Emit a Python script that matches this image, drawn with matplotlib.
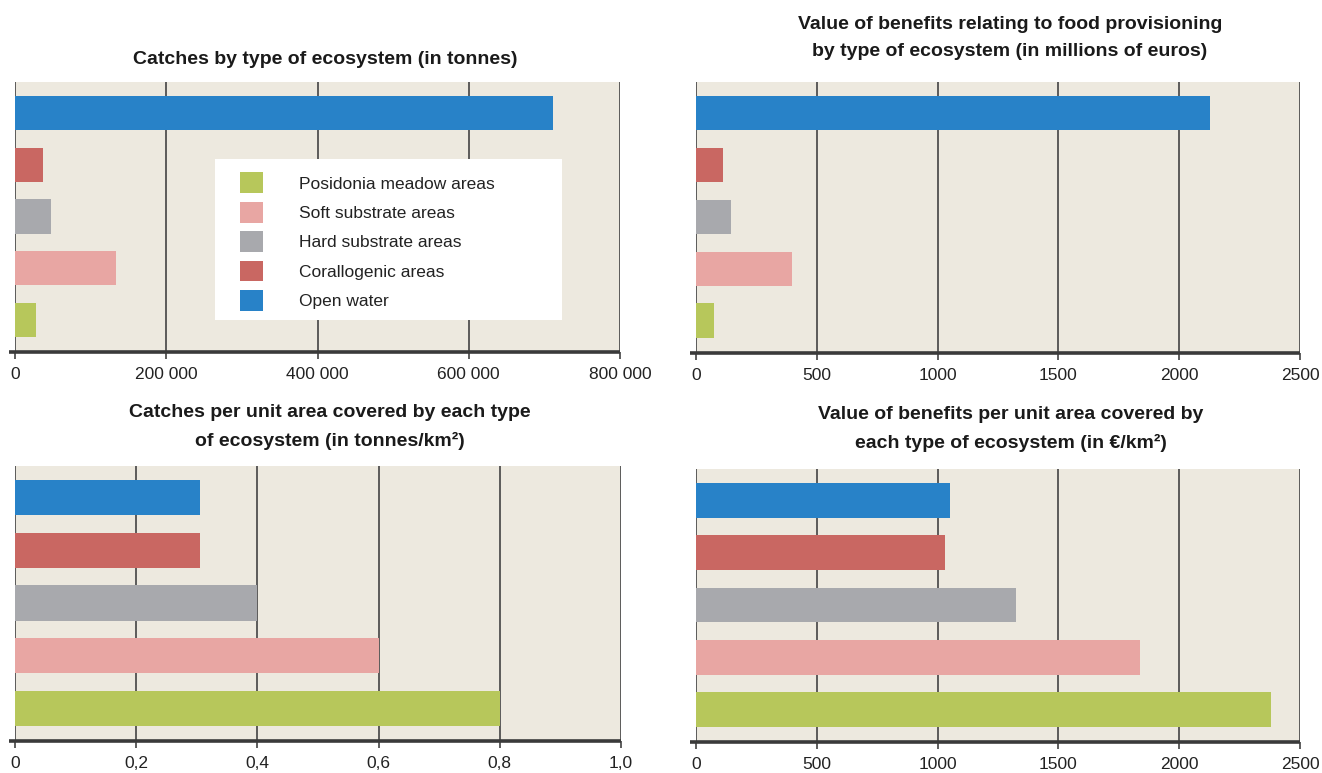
import matplotlib
matplotlib.use("Agg")
import matplotlib.pyplot as plt
from matplotlib.patches import Patch, Rectangle

plt.rcParams['font.family'] = ['Liberation Sans', 'DejaVu Sans']

# data (bottom to top)
ecosystems = ["Posidonia meadow areas", "Soft substrate areas", "Hard substrate areas",
              "Corallogenic areas", "Open water"]
colors = ["#b7c75b", "#e8a6a3", "#a8a9ad", "#c96762", "#2882c8"]

catches = [28000, 134000, 48000, 37500, 711500]
benefits = [76, 396, 144, 110, 2128]
catches_per_km2 = [0.8, 0.6, 0.4, 0.305, 0.305]
benefits_per_km2 = [2380, 1839, 1323, 1030, 1050]

ticks_catches = [0, 200000, 400000, 600000, 800000]
labels_catches = ["0", "200 000", "400 000", "600 000", "800 000"]
ticks_eur = [0, 500, 1000, 1500, 2000, 2500]
labels_eur = ["0", "500", "1000", "1500", "2000", "2500"]
ticks_ratio = [0, 0.2, 0.4, 0.6, 0.8, 1.0]
labels_ratio = ["0", "0,2", "0,4", "0,6", "0,8", "1,0"]

titles = ["Catches by type of ecosystem (in tonnes)",
          "Value of benefits relating to food provisioning\nby type of ecosystem (in millions of euros)",
          "Catches per unit area covered by each type\nof ecosystem (in tonnes/km²)",
          "Value of benefits per unit area covered by\neach type of ecosystem (in €/km²)"]

bg = "#ede9df"
line_col = "#505050"

fig = plt.figure(figsize=(13.22, 7.73), dpi=100)
W, H = 1322, 773


def make_axes(x0, x1, ytop, ybot):
    return fig.add_axes([x0 / W, 1 - ybot / H, (x1 - x0) / W, (ybot - ytop) / H])


panels = [
    (make_axes(15, 620, 82, 352), catches, ticks_catches, labels_catches),
    (make_axes(696, 1300, 82, 353), benefits, ticks_eur, labels_eur),
    (make_axes(15, 621, 466, 741), catches_per_km2, ticks_ratio, labels_ratio),
    (make_axes(696, 1300, 469, 742), benefits_per_km2, ticks_eur, labels_eur),
]

for ax, vals, ticks, labels in panels:
    ax.set_facecolor(bg)
    ax.barh(range(len(vals)), vals, height=0.667, color=colors, zorder=3)
    ax.set_xlim(ticks[0], ticks[-1])
    ax.set_ylim(-0.62, 4.6)
    for t in ticks:
        ax.axvline(t, color=line_col, lw=1.3, zorder=2)
    ax.set_xticks(ticks)
    ax.set_xticklabels(labels, fontsize=12.5, color="#222222")
    ax.tick_params(axis='x', length=5, width=1.3, color=line_col, pad=6)
    ax.set_yticks([])
    for s in ["top", "right", "left", "bottom"]:
        ax.spines[s].set_visible(False)
    ax.plot([-0.01, 1.0], [0, 0], transform=ax.transAxes, color="#3a3a3a",
            lw=2.6, clip_on=False, zorder=5, solid_capstyle='butt')

# legend in first panel
ax1 = panels[0][0]
ax1.add_patch(Rectangle((0.331, 0.117), 0.573, 0.596, transform=ax1.transAxes,
                        facecolor="white", edgecolor="none", zorder=6))
handles = [Patch(facecolor=c, edgecolor="none") for c in colors]
leg = ax1.legend(handles, ecosystems, loc="upper left", bbox_to_anchor=(0.372, 0.665),
                 frameon=False, fontsize=12.5, handlelength=1.3, handleheight=1.45,
                 handletextpad=2.1, labelspacing=0.51, borderpad=0, borderaxespad=0)
leg.set_zorder(7)
for t in leg.get_texts():
    t.set_color("#222222")

# titles
title_pos = [(325, 60), (1010, 38), (330, 427), (1011, 429)]
for (tx, ty), txt in zip(title_pos, titles):
    fig.text(tx / W, 1 - ty / H, txt, ha="center", va="center", fontsize=14,
             fontweight="bold", color="#1a1a1a", linespacing=1.72)

fig.savefig("out.png", dpi=100, facecolor="white")
